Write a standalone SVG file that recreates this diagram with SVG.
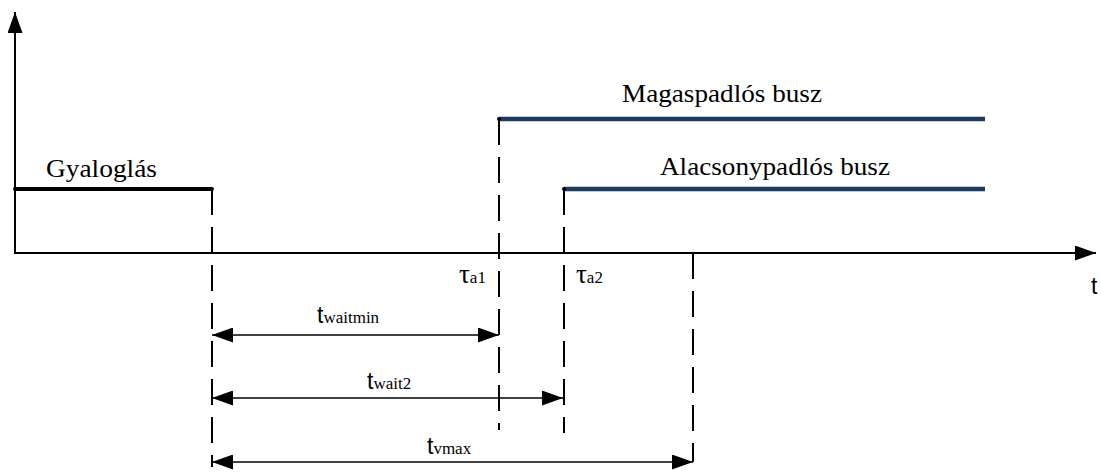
<svg xmlns="http://www.w3.org/2000/svg" width="1101" height="473" viewBox="0 0 1101 473">
  <style>
    .axis { stroke: #000; stroke-width: 2; fill: none; }
    .walk { stroke: #000; stroke-width: 4; stroke-linecap: round; fill: none; }
    .bus { stroke: #1e3a5f; stroke-width: 4.5; stroke-linecap: butt; fill: none; }
    .guide { stroke: #000; stroke-width: 2; stroke-dasharray: 26 12; fill: none; }
    .dim { stroke: #000; stroke-width: 1.6; fill: none; }
    .lbl { font-family: "Liberation Serif", "Times New Roman", serif; font-size: 25px; fill: #000; }
    .big { font-family: "Liberation Sans", Arial, sans-serif; font-size: 23px; fill: #000; }
    .sub { font-family: "Liberation Serif", "Times New Roman", serif; font-size: 17px; fill: #000; }
    .tau { font-family: "Liberation Serif", "Times New Roman", serif; font-size: 27px; fill: #000; }
  </style>
  <defs>
    <marker id="head" viewBox="0 0 21 15" refX="21" refY="7.5" markerWidth="21" markerHeight="15" markerUnits="userSpaceOnUse" orient="auto-start-reverse">
      <path d="M0,0 L21,7.5 L0,15 Z" fill="#000"/>
    </marker>
  </defs>

  <!-- axes -->
  <g id="axes">
    <line class="axis" x1="15" y1="254" x2="15" y2="12" marker-end="url(#head)"/>
    <line class="axis" x1="15" y1="253" x2="1096" y2="253" marker-end="url(#head)"/>
    <text class="big" x="1091" y="294">t</text>
  </g>

  <!-- walking phase -->
  <g id="walk">
    <line class="walk" x1="15" y1="189" x2="212" y2="189"/>
    <text class="lbl" x="46" y="177" textLength="111" lengthAdjust="spacingAndGlyphs">Gyaloglás</text>
  </g>

  <!-- high-floor bus -->
  <g id="bus-high">
    <line class="bus" x1="499" y1="119" x2="985" y2="119"/>
    <circle cx="499" cy="119" r="2" fill="#000"/>
    <text class="lbl" x="622" y="102" textLength="200" lengthAdjust="spacingAndGlyphs">Magaspadlós busz</text>
  </g>

  <!-- low-floor bus -->
  <g id="bus-low">
    <line class="bus" x1="564" y1="189" x2="985" y2="189"/>
    <circle cx="564" cy="189" r="2" fill="#000"/>
    <text class="lbl" x="660" y="175" textLength="230" lengthAdjust="spacingAndGlyphs">Alacsonypadlós busz</text>
  </g>

  <!-- arrival time labels -->
  <g id="tau-a1">
    <text x="459" y="283"><tspan class="tau">τ</tspan><tspan class="sub" font-size="16">a1</tspan></text>
  </g>
  <g id="tau-a2">
    <text x="576" y="283"><tspan class="tau">τ</tspan><tspan class="sub" font-size="16">a2</tspan></text>
  </g>

  <!-- connectors: guide lines and time spans -->
  <g id="connectors">
    <line class="guide" x1="212" y1="189" x2="212" y2="467"/>
    <line class="guide" x1="499" y1="119" x2="499" y2="430"/>
    <line class="guide" x1="564" y1="189" x2="564" y2="433"/>
    <line class="guide" x1="693" y1="253" x2="693" y2="462"/>

    <line class="dim" x1="212" y1="335" x2="499" y2="335" marker-start="url(#head)" marker-end="url(#head)"/>
    <line class="dim" x1="212" y1="398" x2="563" y2="398" marker-start="url(#head)" marker-end="url(#head)"/>
    <line class="dim" x1="212" y1="462" x2="693" y2="462" marker-start="url(#head)" marker-end="url(#head)"/>
  </g>

  <!-- span labels -->
  <g id="span-labels">
    <text x="317" y="323"><tspan class="big">t</tspan><tspan class="sub">waitmin</tspan></text>
    <text x="367" y="389"><tspan class="big">t</tspan><tspan class="sub">wait2</tspan></text>
    <text x="427" y="454"><tspan class="big">t</tspan><tspan class="sub">vmax</tspan></text>
  </g>
</svg>
